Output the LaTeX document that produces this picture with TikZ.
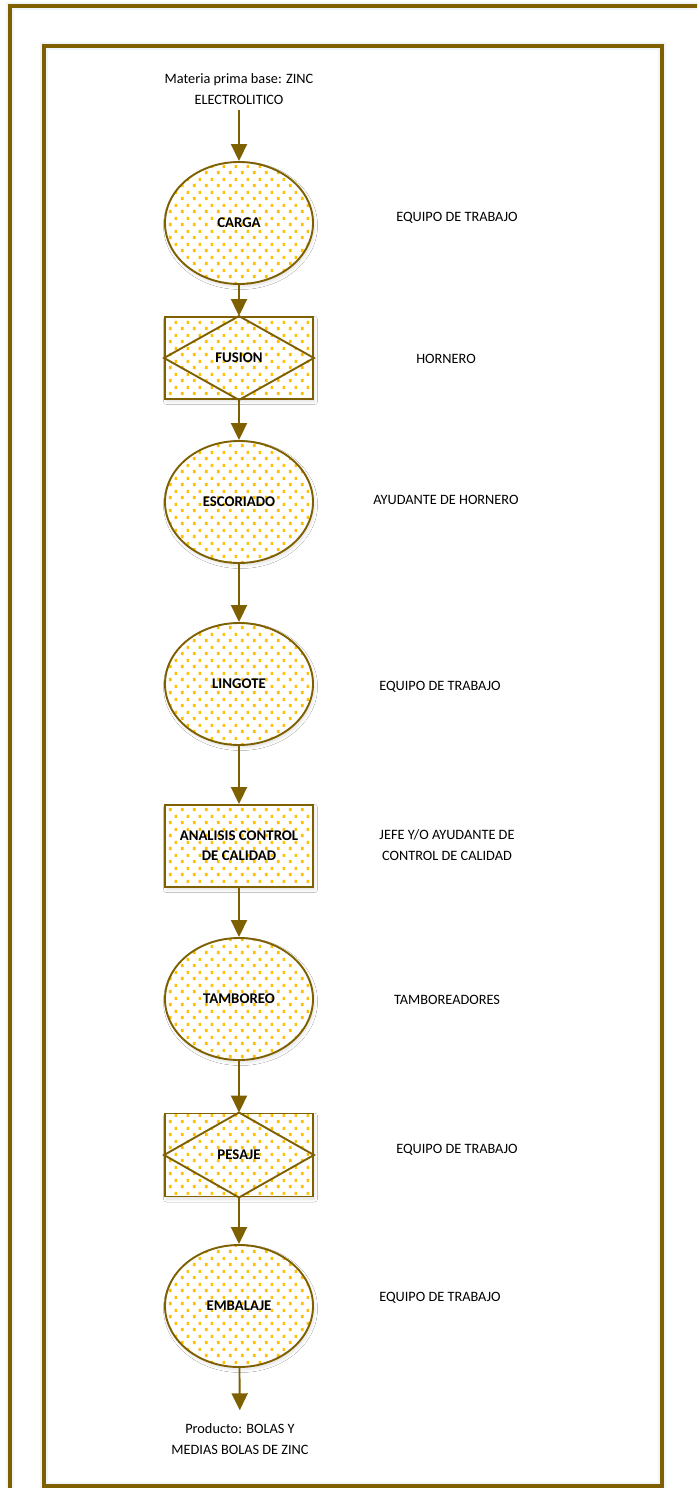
\documentclass[tikz,border=0pt]{standalone}
\usepackage{fontspec}
\setmainfont{Carlito}
\usetikzlibrary{arrows.meta,patterns.meta,shadows.blur,shapes.geometric}
\definecolor{gold}{HTML}{7F6000}
\definecolor{dotcol}{HTML}{FFC000}
\definecolor{glowcol}{HTML}{F1F4F8}
\pgfdeclarepattern{
  name=gdots,
  type=colored,
  bottom left={\pgfpoint{0pt}{0pt}},
  top right={\pgfpoint{12pt}{13pt}},
  tile size={\pgfpoint{12pt}{13pt}},
  code={
    \pgfsetfillcolor{dotcol}
    \pgfpathrectangle{\pgfpoint{1pt}{1pt}}{\pgfpoint{2.9pt}{3.3pt}}
    \pgfpathrectangle{\pgfpoint{7pt}{7.5pt}}{\pgfpoint{2.9pt}{3.3pt}}
    \pgfusepath{fill}
  }
}
\tikzset{
  txt/.style={font=\fontsize{14.3}{21}\selectfont, align=center, inner sep=0pt},
  proc/.style={draw=gold, line width=1.9pt,
    blur shadow={shadow xshift=1.5pt, shadow yshift=-2.5pt, shadow blur radius=3pt, shadow opacity=12},
    preaction={fill=white}, pattern=gdots, inner sep=0pt,
    font=\fontsize{14.8}{20}\selectfont\bfseries, align=center},
  oval/.style={proc, ellipse, minimum width=148pt, minimum height=122pt},
  procbox/.style={proc, rectangle, minimum width=148pt, minimum height=82pt},
  diam/.style={draw=gold, line width=1.9pt, line join=miter},
  conn/.style={draw=gold, line width=1.9pt, -{Triangle[width=16pt,length=17pt]}},
  frame/.style={draw=gold, line width=4pt},
  glow/.style={draw=glowcol, line width=8pt},
}
\begin{document}
\begin{tikzpicture}[x=1pt,y=-1pt]
\useasboundingbox (0,0) rectangle (697,1488);
\clip (0,0) rectangle (697,1488);
\fill[white] (0,0) rectangle (697,1488);
% frames
\draw[glow] (10,1500) -- (10,6) -- (710,6);
\draw[glow] (44,46) rectangle (662,1486);
\draw[frame] (10,1500) -- (10,6) -- (710,6);
\draw[frame] (44,46) rectangle (662,1486);

% flow
\node[txt] (materia) at (239,89) {Materia prima base: ZINC\\ELECTROLITICO};
\node[oval] (carga) at (239,223) {CARGA};
\node[procbox] (fusion) at (239,358) {};
\draw[diam] (fusion.north) -- (fusion.west) -- (fusion.south) -- (fusion.east) -- cycle;
\node[font=\fontsize{14.8}{20}\selectfont\bfseries, inner sep=0pt] (fusiont) at (fusion.center) {FUSION};
\node[oval] (escoriado) at (239,502) {ESCORIADO};
\node[oval] (lingote) at (239,684) {LINGOTE};
\node[procbox] (analisis) at (239,846) {ANALISIS CONTROL\\DE CALIDAD};
\node[oval] (tamboreo) at (239,999) {TAMBOREO};
\node[procbox, minimum height=83pt] (pesaje) at (239,1155) {};
\draw[diam] (pesaje.north) -- (pesaje.west) -- (pesaje.south) -- (pesaje.east) -- cycle;
\node[font=\fontsize{14.8}{20}\selectfont\bfseries, inner sep=0pt] (pesajet) at (pesaje.center) {PESAJE};
\node[oval] (embalaje) at (239,1306) {EMBALAJE};
\node[txt] (producto) at (240,1439) {Producto: BOLAS Y\\MEDIAS BOLAS DE ZINC};

\draw[conn, shorten <=5pt] (materia) -- (carga);
\draw[conn] (carga) -- (fusion);
\draw[conn] (fusion) -- (escoriado);
\draw[conn] (escoriado) -- (lingote);
\draw[conn] (lingote) -- (analisis);
\draw[conn] (analisis) -- (tamboreo);
\draw[conn] (tamboreo) -- (pesaje);
\draw[conn] (pesaje) -- (embalaje);
\draw[conn, shorten >=13pt] (embalaje) -- (producto);

% roles
\node[txt] (r1) at (457,218) {EQUIPO DE TRABAJO};
\node[txt] (r2) at (446,359) {HORNERO};
\node[txt] (r3) at (446,500) {AYUDANTE DE HORNERO};
\node[txt] (r4) at (440,687) {EQUIPO DE TRABAJO};
\node[txt] (r5) at (447,845) {JEFE Y/O AYUDANTE DE\\CONTROL DE CALIDAD};
\node[txt] (r6) at (447,1000) {TAMBOREADORES};
\node[txt] (r7) at (457,1150) {EQUIPO DE TRABAJO};
\node[txt] (r8) at (440,1298) {EQUIPO DE TRABAJO};
\end{tikzpicture}
\end{document}
